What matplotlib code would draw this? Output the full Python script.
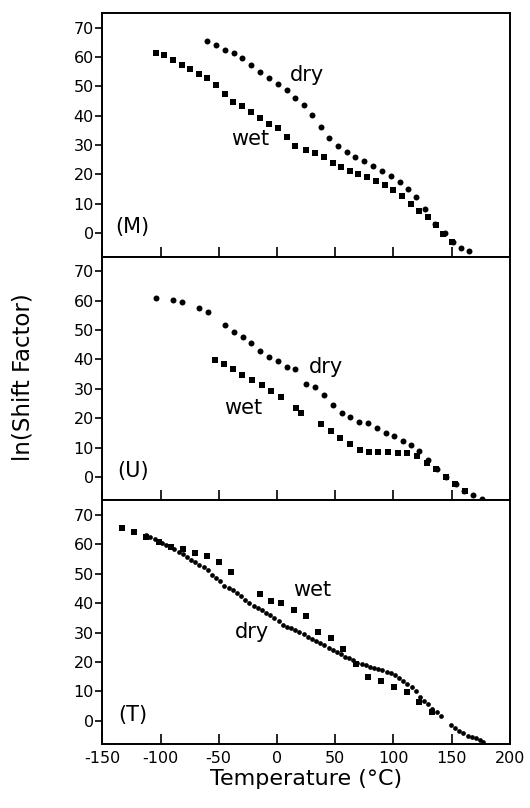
import numpy as np
import matplotlib
matplotlib.use("Agg")
import matplotlib.pyplot as plt

plt.rcParams['font.family'] = ['DejaVu Sans']
plt.rcParams['axes.unicode_minus'] = False

# (M) panel
m_dry_t = [-60, -52.3, -44.9, -37.1, -29.7, -22, -14.3, -6.9, 0.9, 8.6, 15.7, 22.9, 30.3, 37.7, 45.1,
           52.6, 60, 67.4, 74.9, 82.3, 90, 97.7, 105.4, 112.6, 119.4, 127.4, 136, 144.3, 151.4, 158, 165.1]
m_dry_y = [65.6, 64.1, 62.5, 61.4, 59.7, 57.4, 54.9, 52.8, 50.9, 48.6, 46.1, 43.5, 40.1, 36.1, 32.5,
           29.6, 27.8, 26.1, 24.5, 23, 21.3, 19.4, 17.3, 15, 12.2, 8.4, 3.1, -0.1, -3, -4.9, -6]
m_wet_t = [-104.3, -96.6, -89.1, -81.7, -74.3, -67.1, -60, -52.6, -44.9, -37.4, -29.7, -22, -14.3, -6.9,
           0.9, 8.3, 15.1, 25.1, 32.9, 40, 47.7, 55.1, 62.9, 70, 77.7, 85.1, 92.9, 100, 107.4, 114.9,
           121.7, 129.4, 136.6, 142.9, 150]
m_wet_y = [61.5, 60.6, 58.9, 57.4, 55.8, 54.3, 53, 50.6, 47.5, 44.5, 43.3, 41.2, 39.2, 37.2,
           35.8, 32.7, 29.7, 28.4, 27.2, 25.9, 23.9, 22.7, 21.3, 20.2, 19, 17.9, 16.5, 14.7, 12.5, 10.1,
           7.6, 5.4, 2.7, -0.3, -3]

# (U) panel
u_dry_t = [-103.7, -89.1, -81.7, -66.6, -59.1, -44.3, -36.6, -29.4, -22, -14.3, -6.6, 0.9, 8.6, 15.7,
           25.1, 32.9, 40.6, 48, 55.7, 62.9, 70.6, 78, 85.7, 93.4, 100.6, 108, 115.4, 122.3, 130, 137.7,
           145.1, 153.7, 160.9, 168, 175.7]
u_dry_y = [60.8, 60.2, 59.4, 57.4, 56.3, 51.8, 49.2, 47.5, 45.6, 43, 41, 39.5, 37.5, 36.7,
           31.8, 30.5, 28, 24.5, 21.9, 20.5, 18.8, 18.2, 16.6, 14.8, 13.8, 12.3, 10.9, 8.9, 5.7, 2.8,
           0, -2.3, -4.8, -6.3, -7.4]
u_wet_t = [-53.4, -45.7, -37.7, -29.7, -21.1, -13.1, -5.1, 3.7, 16, 20.6, 37.7, 46, 54.3, 62.3, 70.9,
           78.9, 87.1, 95.4, 103.7, 112, 120, 128.6, 136.6, 144.9, 153.1, 161.4]
u_wet_y = [39.9, 38.6, 36.7, 34.7, 33.1, 31.3, 29.3, 27.3, 23.6, 21.9, 18, 15.7, 13.4, 11.1, 9.1,
           8.6, 8.4, 8.5, 8.3, 8, 7.2, 4.9, 2.6, 0, -2.3, -4.8]

# (T) panel
t_dry_t = [-112.3, -108.6, -105.1, -102, -98.6, -95.1, -91.4, -88, -84.3, -80.9, -77.1, -73.7, -70,
           -66.6, -62.9, -59.4, -55.7, -52.3, -48.6, -45.1, -41.4, -38, -34.3, -30.9, -27.1, -23.7, -20,
           -16.6, -12.9, -9.4, -5.7, -2.3, 1.4, 4.9, 8.6, 12, 15.7, 19.1, 22.9, 26.3, 30, 33.4, 37.1,
           40.6, 44.3, 47.7, 51.4, 54.9, 58.6, 62, 65.7, 69.1, 72.9, 76.3, 80, 83.4, 87.1, 90.6, 94.3,
           97.7, 101.4, 104.9, 108.6, 112, 115.7, 119.1, 122.9, 126.3, 130, 133.4, 137.1, 140.6, 149.4,
           152.9, 156.6, 160, 163.7, 167.1, 170.6, 174.3, 177.1]
t_dry_y = [63.1, 62.5, 61.9, 61.1, 60.5, 59.9, 59.3, 58.4, 57.6, 56.7, 55.6, 54.8, 53.9,
           53.1, 52.2, 51.4, 49.7, 48.5, 47.4, 45.9, 45.1, 44.5, 43.4, 42.3, 41.1, 40, 39.2,
           38.5, 37.7, 36.8, 36, 35.1, 34, 32.6, 32, 31.5, 30.9, 30.1, 29.4, 28.6, 27.8, 27.3, 26.4,
           25.6, 24.7, 23.9, 23.3, 22.6, 21.8, 21.3, 20.5, 19.8, 19.3, 18.8, 18.4, 18.1, 17.6, 17.3, 16.7,
           16.1, 15.6, 14.4, 13.5, 12.5, 11.6, 10.2, 8.2, 6.8, 5.7, 4, 2.8, 1.7, -1.5,
           -2.6, -3.5, -4.3, -5.1, -5.5, -6, -6.6, -7.2]
t_wet_t = [-133.4, -122.9, -112.3, -101.4, -91.4, -80.9, -70.6, -59.7, -49.4, -39.1, -14.3, -4.9, 3.7,
           14.6, 24.6, 35.4, 46, 56.9, 68, 78.6, 89.4, 100.9, 111.4, 122, 132.9]
t_wet_y = [65.6, 64.2, 62.7, 61, 59.3, 58.4, 57, 56.1, 53.9, 50.6, 43.1, 40.8, 40,
           37.7, 35.8, 30.1, 28.1, 24.4, 19.2, 14.8, 13.6, 11.6, 9.7, 6.5, 2.8]

panels = [
    ("(M)", m_dry_t, m_dry_y, m_wet_t, m_wet_y, (25.7, 53.8), (-22.9, 32.1)),
    ("(U)", u_dry_t, u_dry_y, u_wet_t, u_wet_y, (42, 37.3), (-28.6, 23.6)),
    ("(T)", t_dry_t, t_dry_y, t_wet_t, t_wet_y, (-21.4, 30.1), (30, 44.5)),
]

fig, axes = plt.subplots(3, 1, figsize=(5.3, 8.08), dpi=100, sharex=True)
fig.subplots_adjust(left=0.193, right=0.962, top=0.984, bottom=0.079, hspace=0)

for ax, (tag, dt, dy, wt, wy, dpos, wpos) in zip(axes, panels):
    ms_dot = 3.4 if tag == "(T)" else 4.3
    ax.plot(wt, wy, 's', color='black', markersize=4.5, markeredgewidth=0)
    ax.plot(dt, dy, 'o', color='black', markersize=ms_dot, markeredgewidth=0)
    ax.set_xlim(-150, 200)
    ax.set_ylim(-8, 75)
    ax.set_yticks(np.arange(0, 71, 10))
    ax.set_xticks(np.arange(-150, 201, 50))
    ax.tick_params(axis='y', direction='out', length=5, width=1.2, labelsize=11.5, pad=1,
                   right=False)
    ax.tick_params(axis='x', direction='in', length=7, width=1.2, labelsize=11.5, top=False, pad=5)
    for s in ax.spines.values():
        s.set_linewidth(1.4)
    ax.text(dpos[0], dpos[1], "dry", fontsize=15, ha='center', va='center')
    ax.text(wpos[0], wpos[1], "wet", fontsize=15, ha='center', va='center')
    ax.text(-124, 2, tag, fontsize=15, ha='center', va='center')

axes[-1].set_xlabel("Temperature (°C)", fontsize=16, labelpad=2)
fig.text(0.043, 0.533, "ln(Shift Factor)", rotation=90, fontsize=16.5, ha='center', va='center')

plt.savefig("out.png", dpi=100)
